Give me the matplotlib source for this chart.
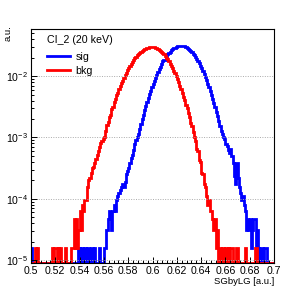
import numpy as np
import matplotlib
matplotlib.use("Agg")
from matplotlib import pyplot as plt
from matplotlib.ticker import MultipleLocator, LogLocator, NullFormatter

plt.rcParams['font.family'] = ['Liberation Sans', 'DejaVu Sans']

# 200 bins of width 0.001 between 0.5 and 0.7
x_lo, x_hi, n_bins = 0.5, 0.7, 200
unit = 1.57e-5   # a.u. per entry

# bkg counts per bin, ten bins per row
bkg_counts = [
    0, 0, 0, 1, 0, 1, 0, 0, 0, 0,
    0, 0, 0, 0, 0, 0, 0, 1, 0, 1,
    1, 0, 1, 0, 1, 0, 0, 0, 1, 0,
    0, 0, 0, 1, 1, 3, 1, 3, 1, 2,
    4, 2, 5, 4, 6, 6, 10, 13, 14, 17,
    20, 21, 24, 28, 33, 38, 45, 52, 55, 60,
    66, 80, 101, 112, 138, 150, 185, 202, 245, 268,
    312, 345, 398, 436, 495, 540, 604, 666, 731, 799,
    870, 942, 1017, 1093, 1169, 1245, 1319, 1392, 1463, 1530,
    1595, 1654, 1709, 1758, 1800, 1835, 1863, 1884, 1896, 1900,
    1895, 1879, 1853, 1818, 1774, 1722, 1661, 1594, 1521, 1443,
    1360, 1280, 1195, 1110, 1025, 941, 860, 781, 706, 634,
    567, 504, 445, 391, 342, 290, 262, 215, 195, 158,
    140, 110, 99, 77, 66, 55, 42, 38, 27, 25,
    17, 16, 11, 10, 7, 5, 6, 4, 4, 3,
    2, 3, 1, 2, 0, 1, 0, 1, 1, 0,
    1, 0, 1, 0, 1, 1, 0, 0, 0, 1,
    0, 0, 0, 0, 0, 0, 1, 0, 0, 0,
    0, 0, 0, 0, 1, 1, 0, 0, 0, 0,
    0, 0, 0, 0, 0, 0, 0, 0, 0, 0,
]

# sig counts per bin
sig_counts = [
    1, 0, 0, 0, 0, 0, 0, 0, 0, 0,
    0, 0, 0, 0, 0, 0, 0, 0, 0, 0,
    0, 0, 0, 0, 0, 0, 0, 0, 0, 0,
    0, 0, 0, 0, 0, 0, 0, 0, 0, 1,
    0, 1, 1, 0, 1, 0, 1, 1, 0, 1,
    1, 0, 1, 0, 0, 0, 1, 0, 0, 0,
    1, 1, 2, 3, 4, 3, 2, 4, 5, 4,
    6, 7, 8, 9, 10, 11, 10, 12, 16, 18,
    20, 24, 30, 33, 40, 50, 57, 64, 73, 88,
    105, 126, 149, 176, 206, 240, 279, 322, 369, 422,
    479, 541, 607, 678, 754, 833, 916, 1001, 1110, 1170,
    1190, 1340, 1442, 1524, 1605, 1682, 1752, 1815, 1870, 1916,
    1952, 1979, 1995, 2000, 1994, 1977, 1948, 1908, 1858, 1799,
    1731, 1656, 1575, 1490, 1402, 1311, 1218, 1125, 1033, 941,
    852, 770, 690, 615, 547, 481, 422, 367, 318, 273,
    234, 200, 169, 142, 119, 99, 81, 72, 64, 60,
    50, 46, 40, 36, 42, 32, 24, 15, 11, 24,
    14, 10, 8, 6, 7, 5, 4, 2, 3, 2,
    3, 1, 2, 3, 3, 1, 2, 1, 0, 1,
    1, 0, 1, 1, 0, 0, 0, 0, 0, 0,
]

legend_title = 'CI_2 (20 keV)'
x_ticks = [0.5, 0.52, 0.54, 0.56, 0.58, 0.6, 0.62, 0.64, 0.66, 0.68, 0.7]
x_tick_labels = ['0.5', '0.52', '0.54', '0.56', '0.58', '0.6', '0.62', '0.64', '0.66', '0.68', '0.7']
y_lo, y_hi = 8.93e-6, 0.059

edges = np.linspace(x_lo, x_hi, n_bins + 1)
sig = np.array(sig_counts) * unit
bkg = np.array(bkg_counts) * unit

fig = plt.figure(figsize=(3.05, 2.94), dpi=100)
ax = fig.add_axes([31 / 305, 1 - 263 / 294, 243 / 305, 234 / 294])

# empty bins are drawn along the bottom of the frame, like ROOT does
ax.stairs(np.maximum(sig, y_lo), edges, color=(0, 0, 1), lw=2.0, baseline=None, label='sig')
ax.stairs(np.maximum(bkg, y_lo), edges, color=(1, 0, 0), lw=2.0, baseline=None, label='bkg')

ax.set_yscale('log')
ax.set_xlim(x_lo, x_hi)
ax.set_ylim(y_lo, y_hi)

ax.set_xticks(x_ticks)
ax.set_xticklabels(x_tick_labels)
ax.xaxis.set_minor_locator(MultipleLocator(0.004))
ax.yaxis.set_major_locator(LogLocator(base=10, numticks=10))
ax.yaxis.set_minor_locator(LogLocator(base=10, subs=np.arange(2, 10), numticks=20))
ax.yaxis.set_minor_formatter(NullFormatter())

ax.tick_params(which='both', direction='in', top=False, right=False, labelsize=7.6, pad=2)
ax.tick_params(which='major', length=4.5, width=0.7)
ax.tick_params(which='minor', length=2.5, width=0.7)
ax.yaxis.grid(True, which='major', linestyle=(0, (1, 1.5)), color='#aaaaaa', lw=0.7)
for s in ax.spines.values():
    s.set_linewidth(0.8)

ax.set_xlabel('SGbyLG [a.u.]', loc='right', fontsize=6.8, labelpad=1)
ax.set_ylabel('a.u.', loc='top', fontsize=6.8)
ax.yaxis.set_label_coords(-0.075, 1.015)

leg = ax.legend(loc='upper left', bbox_to_anchor=(0.02, 1.02), frameon=False,
                title=legend_title, alignment='left', fontsize=7.7, title_fontsize=7.7,
                handlelength=2.2, handletextpad=0.5, labelspacing=0.4, borderpad=0.5)
leg._legend_box.sep = 5

fig.savefig('out.png', dpi=100)
